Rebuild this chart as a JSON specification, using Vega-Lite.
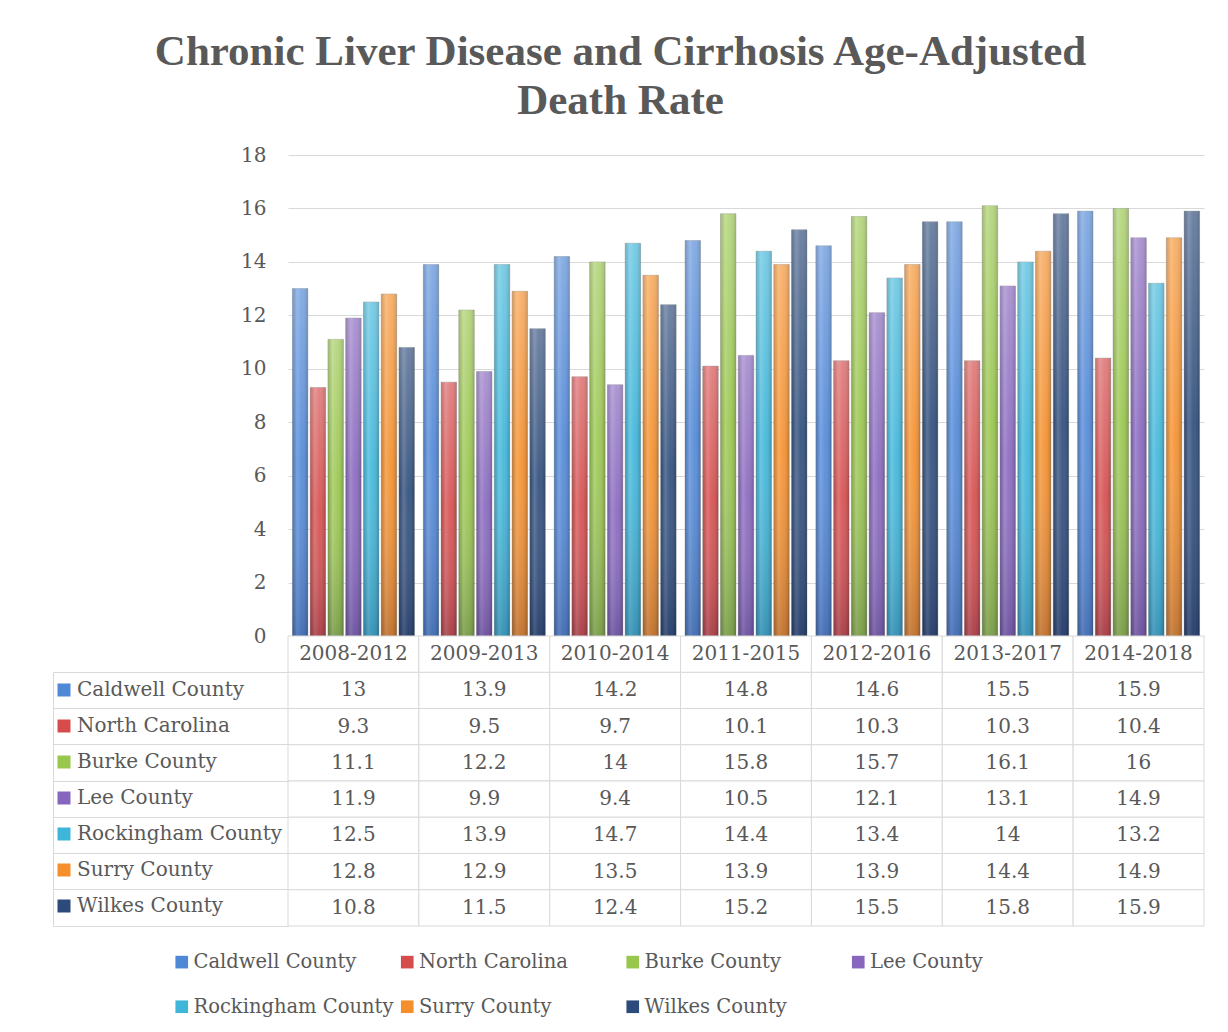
{
  "$schema": "https://vega.github.io/schema/vega-lite/v6.json",
  "background": "white",
  "padding": {"left": 52, "top": 31, "right": 25, "bottom": 15},
  "title": {
    "text": ["Chronic Liver Disease and Cirrhosis Age-Adjusted", "Death Rate"],
    "font": "Liberation Serif",
    "fontWeight": "bold",
    "fontSize": 43,
    "lineHeight": 49,
    "color": "#595959",
    "anchor": "middle",
    "offset": 22,
    "dx": -8
  },
  "datasets": {
    "rates": [
      {"period": "2008-2012", "series": "Caldwell County", "value": 13},
      {"period": "2009-2013", "series": "Caldwell County", "value": 13.9},
      {"period": "2010-2014", "series": "Caldwell County", "value": 14.2},
      {"period": "2011-2015", "series": "Caldwell County", "value": 14.8},
      {"period": "2012-2016", "series": "Caldwell County", "value": 14.6},
      {"period": "2013-2017", "series": "Caldwell County", "value": 15.5},
      {"period": "2014-2018", "series": "Caldwell County", "value": 15.9},
      {"period": "2008-2012", "series": "North Carolina", "value": 9.3},
      {"period": "2009-2013", "series": "North Carolina", "value": 9.5},
      {"period": "2010-2014", "series": "North Carolina", "value": 9.7},
      {"period": "2011-2015", "series": "North Carolina", "value": 10.1},
      {"period": "2012-2016", "series": "North Carolina", "value": 10.3},
      {"period": "2013-2017", "series": "North Carolina", "value": 10.3},
      {"period": "2014-2018", "series": "North Carolina", "value": 10.4},
      {"period": "2008-2012", "series": "Burke County", "value": 11.1},
      {"period": "2009-2013", "series": "Burke County", "value": 12.2},
      {"period": "2010-2014", "series": "Burke County", "value": 14},
      {"period": "2011-2015", "series": "Burke County", "value": 15.8},
      {"period": "2012-2016", "series": "Burke County", "value": 15.7},
      {"period": "2013-2017", "series": "Burke County", "value": 16.1},
      {"period": "2014-2018", "series": "Burke County", "value": 16},
      {"period": "2008-2012", "series": "Lee County", "value": 11.9},
      {"period": "2009-2013", "series": "Lee County", "value": 9.9},
      {"period": "2010-2014", "series": "Lee County", "value": 9.4},
      {"period": "2011-2015", "series": "Lee County", "value": 10.5},
      {"period": "2012-2016", "series": "Lee County", "value": 12.1},
      {"period": "2013-2017", "series": "Lee County", "value": 13.1},
      {"period": "2014-2018", "series": "Lee County", "value": 14.9},
      {"period": "2008-2012", "series": "Rockingham County", "value": 12.5},
      {"period": "2009-2013", "series": "Rockingham County", "value": 13.9},
      {"period": "2010-2014", "series": "Rockingham County", "value": 14.7},
      {"period": "2011-2015", "series": "Rockingham County", "value": 14.4},
      {"period": "2012-2016", "series": "Rockingham County", "value": 13.4},
      {"period": "2013-2017", "series": "Rockingham County", "value": 14},
      {"period": "2014-2018", "series": "Rockingham County", "value": 13.2},
      {"period": "2008-2012", "series": "Surry County", "value": 12.8},
      {"period": "2009-2013", "series": "Surry County", "value": 12.9},
      {"period": "2010-2014", "series": "Surry County", "value": 13.5},
      {"period": "2011-2015", "series": "Surry County", "value": 13.9},
      {"period": "2012-2016", "series": "Surry County", "value": 13.9},
      {"period": "2013-2017", "series": "Surry County", "value": 14.4},
      {"period": "2014-2018", "series": "Surry County", "value": 14.9},
      {"period": "2008-2012", "series": "Wilkes County", "value": 10.8},
      {"period": "2009-2013", "series": "Wilkes County", "value": 11.5},
      {"period": "2010-2014", "series": "Wilkes County", "value": 12.4},
      {"period": "2011-2015", "series": "Wilkes County", "value": 15.2},
      {"period": "2012-2016", "series": "Wilkes County", "value": 15.5},
      {"period": "2013-2017", "series": "Wilkes County", "value": 15.8},
      {"period": "2014-2018", "series": "Wilkes County", "value": 15.9}
    ]
  },
  "spacing": 0,
  "bounds": "flush",
  "resolve": {"scale": {"color": "independent"}, "legend": {"color": "independent"}},
  "vconcat": [
    {
      "width": 916,
      "height": 481,
      "data": {"name": "rates"},
      "encoding": {
        "x": {
          "field": "period",
          "type": "nominal",
          "scale": {
            "domain": ["2008-2012", "2009-2013", "2010-2014", "2011-2015", "2012-2016", "2013-2017", "2014-2018"],
            "paddingInner": 0,
            "paddingOuter": 0
          },
          "axis": null
        },
        "xOffset": {
          "field": "series",
          "type": "nominal",
          "scale": {
            "domain": ["Caldwell County", "North Carolina", "Burke County", "Lee County", "Rockingham County", "Surry County", "Wilkes County"],
            "paddingInner": 0.13,
            "paddingOuter": 0.25
          }
        },
        "y": {
          "field": "value",
          "type": "quantitative",
          "scale": {"domain": [0, 18]},
          "axis": {
            "title": null,
            "values": [0, 2, 4, 6, 8, 10, 12, 14, 16, 18],
            "domain": false,
            "ticks": false,
            "labelPadding": 22,
            "labelFont": "DejaVu Serif",
            "labelFontSize": 20,
            "labelColor": "#595959",
            "gridColor": "#D9D9D9",
            "gridWidth": 1
          }
        }
      },
      "layer": [
        {
          "mark": {"type": "bar", "stroke": "#7f7f7f", "strokeWidth": 0.6, "strokeOpacity": 0.6},
          "encoding": {
            "color": {
              "field": "series",
              "type": "nominal",
              "scale": {
                "domain": ["Caldwell County", "North Carolina", "Burke County", "Lee County", "Rockingham County", "Surry County", "Wilkes County"],
                "range": ["#5088D8", "#D64C4C", "#99C64D", "#8766BE", "#3DB6DA", "#F58F2B", "#2C4B7A"]
              },
              "legend": {
                "orient": "none",
                "legendX": -116,
                "legendY": 797,
                "direction": "horizontal",
                "columns": 4,
                "gridAlign": "all",
                "title": null,
                "symbolType": "square",
                "symbolSize": 160,
                "symbolStrokeWidth": 0,
                "labelFont": "DejaVu Serif",
                "labelFontSize": 19.5,
                "labelColor": "#595959",
                "labelOffset": 2,
                "labelLimit": 0,
                "columnPadding": 3.5,
                "rowPadding": 24,
                "padding": 0
              }
            }
          }
        },
        {
          "mark": {
            "type": "bar",
            "fill": {
              "gradient": "linear",
              "x1": 0, "y1": 0, "x2": 1, "y2": 0,
              "stops": [
                {"offset": 0, "color": "rgba(0,0,0,0.18)"},
                {"offset": 0.3, "color": "rgba(255,255,255,0.2)"},
                {"offset": 0.6, "color": "rgba(255,255,255,0.05)"},
                {"offset": 1, "color": "rgba(0,0,0,0.22)"}
              ]
            }
          }
        },
        {
          "mark": {
            "type": "bar",
            "fill": {
              "gradient": "linear",
              "x1": 0, "y1": 0, "x2": 0, "y2": 1,
              "stops": [
                {"offset": 0, "color": "rgba(255,255,255,0.28)"},
                {"offset": 0.5, "color": "rgba(255,255,255,0.04)"},
                {"offset": 1, "color": "rgba(0,0,40,0.2)"}
              ]
            }
          }
        }
      ]
    },
    {
      "width": 916,
      "height": 290,
      "data": {"name": "rates"},
      "encoding": {
        "x": {
          "field": "period",
          "type": "nominal",
          "scale": {
            "domain": ["2008-2012", "2009-2013", "2010-2014", "2011-2015", "2012-2016", "2013-2017", "2014-2018"],
            "paddingInner": 0,
            "paddingOuter": 0
          },
          "axis": null
        }
      },
      "layer": [
        {
          "mark": {"type": "rect", "fill": "white", "stroke": "#D9D9D9", "strokeWidth": 1},
          "encoding": {
            "y": {
              "field": "series",
              "type": "nominal",
              "scale": {
                "domain": ["Period", "Caldwell County", "North Carolina", "Burke County", "Lee County", "Rockingham County", "Surry County", "Wilkes County"],
                "paddingInner": 0,
                "paddingOuter": 0
              },
              "axis": {
                "title": null,
                "labels": false,
                "grid": false,
                "offset": 235,
                "bandPosition": 1,
                "ticks": true,
                "tickSize": -235,
                "tickColor": "#D9D9D9",
                "tickWidth": 1,
                "domain": true,
                "domainColor": "#D9D9D9",
                "domainWidth": 1,
                "domainDash": [0, 36.25, 253.75, 0]
              }
            }
          }
        },
        {
          "transform": [{"filter": "datum.series === 'Caldwell County'"}],
          "mark": {"type": "rect", "fill": "white", "stroke": "#D9D9D9", "strokeWidth": 1},
          "encoding": {
            "y": {"datum": "Period", "type": "nominal"}
          }
        },
        {
          "mark": {"type": "text", "font": "DejaVu Serif", "fontSize": 20, "color": "#595959", "baseline": "middle"},
          "encoding": {
            "y": {"field": "series", "type": "nominal"},
            "text": {"field": "value", "type": "nominal"}
          }
        },
        {
          "transform": [{"filter": "datum.series === 'Caldwell County'"}],
          "mark": {"type": "text", "font": "DejaVu Serif", "fontSize": 20, "color": "#595959", "baseline": "middle"},
          "encoding": {
            "y": {"datum": "Period", "type": "nominal"},
            "text": {"field": "period", "type": "nominal"}
          }
        },
        {
          "transform": [{"filter": "false"}],
          "mark": {"type": "square", "filled": true, "opacity": 1},
          "encoding": {
            "y": {"field": "series", "type": "nominal"},
            "color": {
              "field": "series",
              "type": "nominal",
              "scale": {
                "domain": ["Caldwell County", "North Carolina", "Burke County", "Lee County", "Rockingham County", "Surry County", "Wilkes County"],
                "range": ["#5088D8", "#D64C4C", "#99C64D", "#8766BE", "#3DB6DA", "#F58F2B", "#2C4B7A"]
              },
              "legend": {
                "orient": "none",
                "legendX": -234,
                "legendY": 44,
                "direction": "vertical",
                "title": null,
                "symbolType": "square",
                "symbolSize": 169,
                "symbolStrokeWidth": 0,
                "labelFont": "DejaVu Serif",
                "labelFontSize": 20,
                "labelColor": "#595959",
                "labelOffset": 3,
                "labelLimit": 0,
                "rowPadding": 16,
                "padding": 0
              }
            }
          }
        }
      ]
    }
  ],
  "config": {
    "view": {"stroke": null},
    "font": "DejaVu Serif"
  }
}
